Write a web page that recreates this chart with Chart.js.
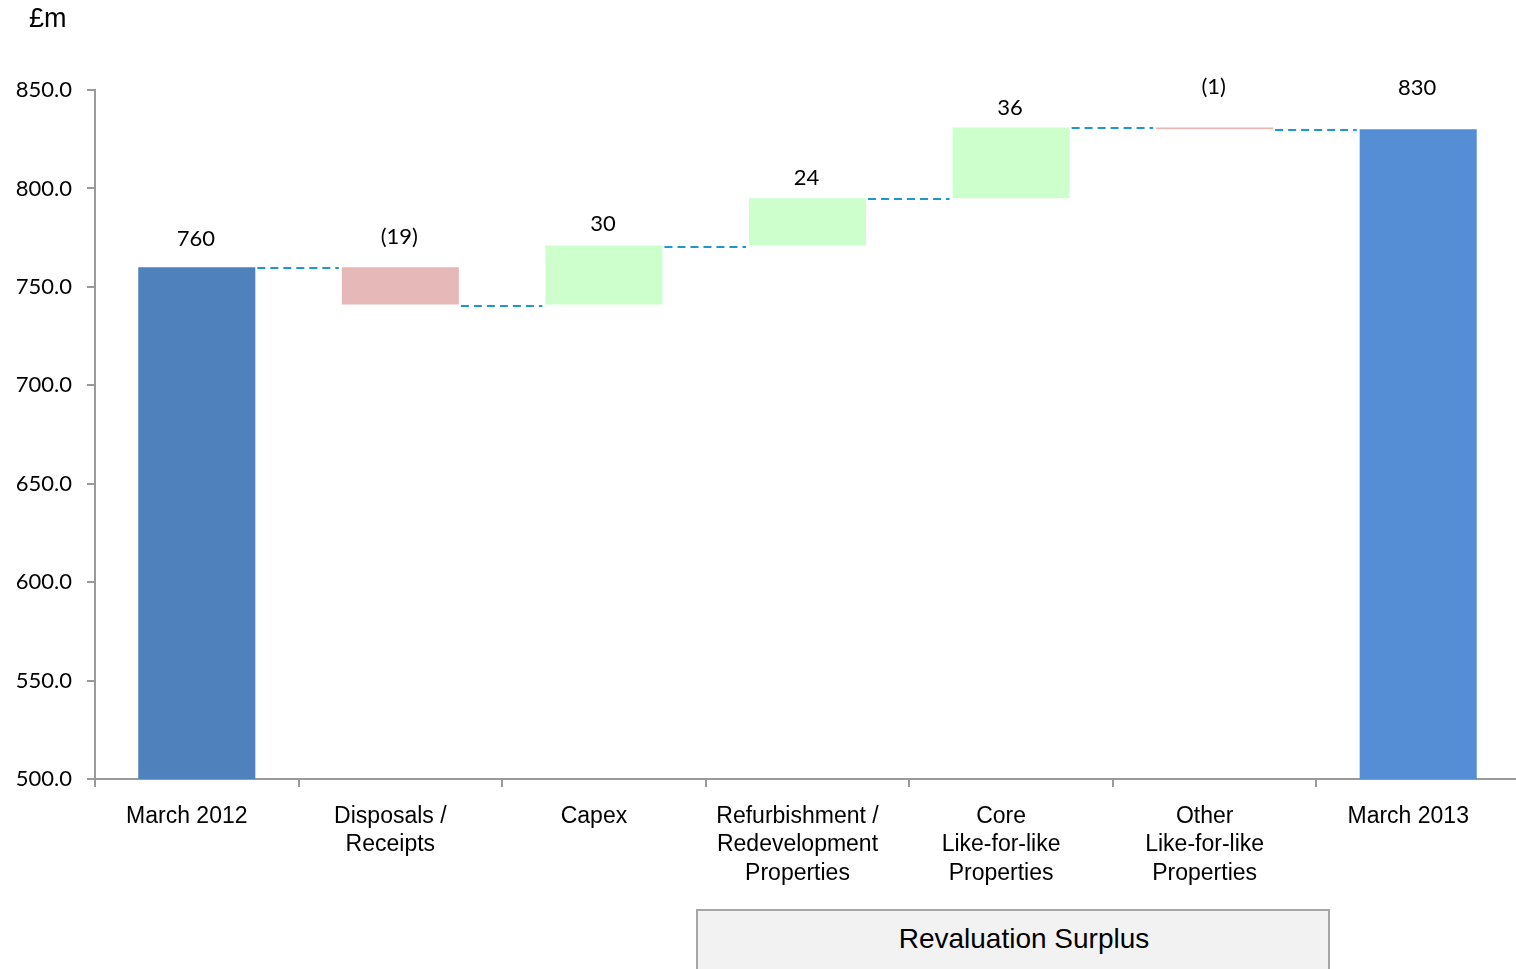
<!DOCTYPE html>
<html>
<head>
<meta charset="utf-8">
<title>Property valuation bridge</title>
<script src="https://cdn.jsdelivr.net/npm/chart.js@4.4.1/dist/chart.umd.min.js"></script>
<style>
  html, body { margin: 0; padding: 0; background: #ffffff; }
  #wrap { position: relative; width: 1516px; height: 969px; overflow: hidden; }
  #chart { position: absolute; left: 0; top: 0; }
  #unit {
    position: absolute; left: 29px; top: 3px;
    font-family: "Liberation Sans", Arial, sans-serif; font-size: 27px; color: #000;
  }
  #group {
    position: absolute; left: 696px; top: 909px; width: 634px; height: 70px;
    background: #f2f2f2; border: 2px solid #a6a6a6; box-sizing: border-box;
    font-family: "Liberation Sans", Arial, sans-serif; font-size: 28px; color: #000;
    text-align: center; line-height: 56px; padding-left: 22px;
  }
</style>
</head>
<body>
<div id="wrap">
  <canvas id="chart" width="1520" height="969"></canvas>
  <div id="unit">£m</div>
  <div id="group">Revaluation Surplus</div>
</div>
<script>
// Categories of the bridge (multi-line axis labels)
const categories = [
  ['March 2012'],
  ['Disposals /', 'Receipts'],
  ['Capex'],
  ['Refurbishment /', 'Redevelopment', 'Properties'],
  ['Core', 'Like-for-like', 'Properties'],
  ['Other', 'Like-for-like', 'Properties'],
  ['March 2013']
];

// £m: opening/closing totals and the movements between them
const changes = [760, -19, 30, 24, 36, -1, 830];
const isTotal = [true, false, false, false, false, false, true];

// Value axis range and tick step
const yMin = 500;
const yMax = 850;
const yStep = 50;

// Colours per bar
const barColors = ['#4f81bd', '#e6b9b8', '#ccffcc', '#ccffcc', '#ccffcc', '#e6b9b8', '#558ed5'];

// Build floating bars from the running total
const floating = [];
const levels = [];
let running = 0;
changes.forEach((c, i) => {
  if (isTotal[i]) {
    running = c;
    floating.push([yMin, c]);
  } else {
    floating.push([running, running + c]);
    running += c;
  }
  levels.push(running);
});

const fmt = (c) => c < 0 ? '(' + Math.abs(c) + ')' : String(c);

// Dashed connectors between consecutive bars and value labels above each bar
const bridgePlugin = {
  id: 'bridge',
  afterDatasetsDraw(chart, args, opts) {
    const ctx = chart.ctx;
    const meta = chart.getDatasetMeta(0);
    const y = chart.scales.y;
    ctx.save();
    ctx.strokeStyle = opts.lineColor;
    ctx.lineWidth = 2;
    ctx.setLineDash([8, 5]);
    for (let i = 0; i < meta.data.length - 1; i++) {
      const a = meta.data[i], b = meta.data[i + 1];
      const py = Math.round(y.getPixelForValue(levels[i])) + 1;
      ctx.beginPath();
      ctx.moveTo(a.x + a.width / 2 + 2, py);
      ctx.lineTo(b.x - b.width / 2 - 3, py);
      ctx.stroke();
    }
    ctx.setLineDash([]);
    ctx.fillStyle = '#000';
    ctx.font = opts.font;
    ctx.textAlign = 'center';
    ctx.textBaseline = 'middle';
    meta.data.forEach((bar, i) => {
      const top = y.getPixelForValue(Math.max(floating[i][0], floating[i][1]));
      ctx.fillText(fmt(changes[i]), bar.x - 1, top - opts.gaps[i]);
    });
    ctx.restore();
  }
};

new Chart(document.getElementById('chart'), {
  type: 'bar',
  data: {
    labels: categories,
    datasets: [{
      data: floating,
      backgroundColor: barColors,
      borderWidth: 0,
      barPercentage: 0.575,
      categoryPercentage: 1.0
    }]
  },
  options: {
    responsive: false,
    animation: false,
    devicePixelRatio: 1,
    layout: { padding: { top: 90, right: 0, bottom: 0, left: 0 } },
    plugins: {
      legend: { display: false },
      tooltip: { enabled: false },
      bridge: {
        lineColor: '#1f97cc',
        font: '22px Lato, "Open Sans", sans-serif',
        gaps: [28, 30, 22, 20, 19, 40, 41]
      }
    },
    scales: {
      x: {
        grid: {
          offset: true,
          drawOnChartArea: false,
          drawTicks: true,
          tickLength: 8,
          color: '#9a9a9a',
          lineWidth: 2
        },
        border: { display: true, color: '#9a9a9a', width: 2 },
        ticks: {
          color: '#000',
          font: { family: '"Liberation Sans", Arial, sans-serif', size: 23, lineHeight: 1.24 },
          padding: 15,
          labelOffset: -10,
          maxRotation: 0,
          autoSkip: false
        },
        afterFit(scale) { scale.height = 190; }
      },
      y: {
        min: yMin,
        max: yMax,
        grid: {
          drawOnChartArea: false,
          drawTicks: true,
          tickLength: 8,
          color: '#9a9a9a',
          lineWidth: 2
        },
        border: { display: true, color: '#9a9a9a', width: 2 },
        ticks: {
          stepSize: yStep,
          color: '#000',
          padding: 15,
          font: { family: 'Lato, "Open Sans", sans-serif', size: 22 },
          callback: (v) => Number(v).toFixed(1)
        },
        afterFit(scale) { scale.width = 95; }
      }
    }
  },
  plugins: [bridgePlugin]
});
</script>
</body>
</html>
